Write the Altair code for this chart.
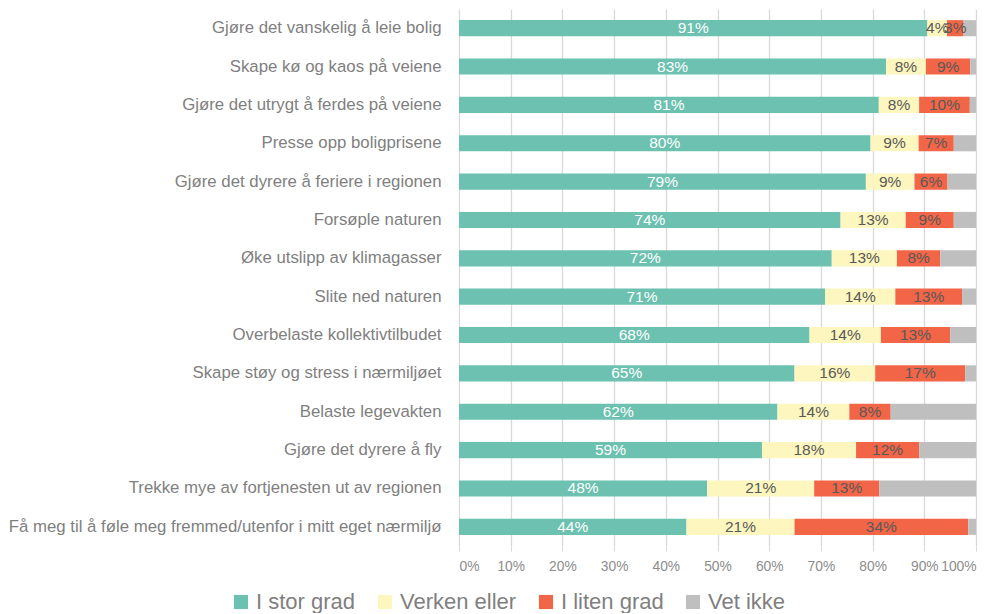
import altair as alt
import pandas as pd

categories = [
    "Gjøre det vanskelig å leie bolig",
    "Skape kø og kaos på veiene",
    "Gjøre det utrygt å ferdes på veiene",
    "Presse opp boligprisene",
    "Gjøre det dyrere å feriere i regionen",
    "Forsøple naturen",
    "Øke utslipp av klimagasser",
    "Slite ned naturen",
    "Overbelaste kollektivtilbudet",
    "Skape støy og stress i nærmiljøet",
    "Belaste legevakten",
    "Gjøre det dyrere å fly",
    "Trekke mye av fortjenesten ut av regionen",
    "Få meg til å føle meg fremmed/utenfor i mitt eget nærmiljø",
]
series = ["I stor grad", "Verken eller", "I liten grad", "Vet ikke"]
stor = [90.6, 82.6, 81.2, 79.6, 78.7, 73.8, 72.1, 70.8, 67.8, 64.9, 61.6, 58.6, 48.0, 44.0]
verken = [3.8, 7.7, 7.8, 9.3, 9.4, 12.6, 12.6, 13.6, 13.8, 15.6, 13.9, 18.2, 20.7, 20.9]
liten = [3.2, 8.6, 9.8, 6.8, 6.4, 9.3, 8.4, 12.9, 13.4, 17.4, 8.0, 12.2, 12.6, 33.6]
vet = [2.4, 1.1, 1.2, 4.3, 5.5, 4.3, 6.9, 2.7, 5.0, 2.1, 16.5, 11.0, 18.7, 1.5]
colors = ["#6CC1B0", "#FDF6BE", "#F26547", "#BFBFBF"]

rows = []
for i, c in enumerate(categories):
    for j, (s, arr) in enumerate(zip(series, [stor, verken, liten, vet])):
        rows.append({"cat": c, "series": s, "order": j, "value": arr[i]})
df = pd.DataFrame(rows)

font = "Liberation Sans"

base = alt.Chart(df).encode(
    y=alt.Y("cat:N", sort=categories, title=None,
            scale=alt.Scale(paddingInner=0.58, paddingOuter=0.29),
            axis=alt.Axis(labelFontSize=16.8, labelColor="#7F7F7F", labelFont=font,
                          ticks=False, domain=False, labelPadding=18, labelLimit=700)),
)

bars = base.mark_bar().encode(
    x=alt.X("value:Q", stack="zero", title=None,
            scale=alt.Scale(domain=[0, 100], nice=False),
            axis=alt.Axis(values=list(range(0, 101, 10)), labelExpr="datum.value + '%'",
                          labelFontSize=13.8, labelColor="#8C8C8C", labelFont=font,
                          grid=True, gridColor="#D9D9D9", gridWidth=1.3,
                          tickColor="#D9D9D9", tickSize=5, domain=False, labelPadding=8)),
    color=alt.Color("series:N", scale=alt.Scale(domain=series, range=colors),
                    legend=alt.Legend(title=None, orient="none", direction="horizontal",
                                      legendX=-229, legendY=582,
                                      labelFontSize=22, labelColor="#7F7F7F", labelFont=font,
                                      symbolType="square", symbolSize=200, symbolStrokeWidth=0,
                                      columnPadding=18, labelOffset=4)),
    order=alt.Order("order:Q"),
)

labels = base.transform_filter(
    "datum.series != 'Vet ikke'"
).transform_stack(
    stack="value", groupby=["cat"], sort=[alt.SortField("order")], as_=["v0", "v1"]
).transform_calculate(
    mid="(datum.v0 + datum.v1) / 2",
    lab="format(datum.value, '.0f') + '%'",
).mark_text(fontSize=15.5, font=font, baseline="middle", align="center").encode(
    x=alt.X("mid:Q"),
    text="lab:N",
    color=alt.condition("datum.series == 'I stor grad'", alt.value("#FFFFFF"), alt.value("#595959")),
)

chart = alt.layer(bars, labels).properties(
    width=517, height=537,
    padding={"left": 0, "top": 1, "right": 10, "bottom": 0},
).configure_view(stroke=None).configure_axis(labelFont=font)

chart.save("out.html", embed_options={"renderer": "svg", "actions": False})
